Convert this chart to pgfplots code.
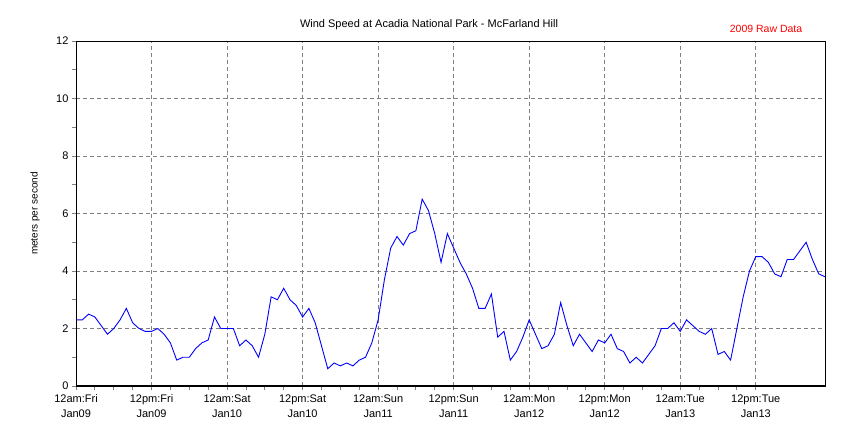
\documentclass[border=0pt]{standalone}
\usepackage{fontspec}
\setmainfont{Liberation Sans}
\usepackage{pgfplots}
\usepackage{pgfplotstable}
\pgfplotsset{compat=1.18}
\definecolor{gridgray}{HTML}{808080}
\definecolor{lineblue}{HTML}{0000FF}

% hour since 12am Fri Jan09, wind speed (m/s)
\pgfplotstableread{
h v
0 2.3
1 2.3
2 2.5
3 2.4
4 2.1
5 1.8
6 2.0
7 2.3
8 2.7
9 2.2
10 2.0
11 1.9
12 1.9
13 2.0
14 1.8
15 1.5
16 0.9
17 1.0
18 1.0
19 1.3
20 1.5
21 1.6
22 2.4
23 2.0
24 2.0
25 2.0
26 1.4
27 1.6
28 1.4
29 1.0
30 1.8
31 3.1
32 3.0
33 3.4
34 3.0
35 2.8
36 2.4
37 2.7
38 2.2
39 1.4
40 0.6
41 0.8
42 0.7
43 0.8
44 0.7
45 0.9
46 1.0
47 1.5
48 2.3
49 3.7
50 4.8
51 5.2
52 4.9
53 5.3
54 5.4
55 6.5
56 6.1
57 5.3
58 4.3
59 5.3
60 4.8
61 4.3
62 3.9
63 3.4
64 2.7
65 2.7
66 3.2
67 1.7
68 1.9
69 0.9
70 1.2
71 1.7
72 2.3
73 1.8
74 1.3
75 1.4
76 1.8
77 2.9
78 2.1
79 1.4
80 1.8
81 1.5
82 1.2
83 1.6
84 1.5
85 1.8
86 1.3
87 1.2
88 0.8
89 1.0
90 0.8
91 1.1
92 1.4
93 2.0
94 2.0
95 2.2
96 1.9
97 2.3
98 2.1
99 1.9
100 1.8
101 2.0
102 1.1
103 1.2
104 0.9
105 2.0
106 3.1
107 4.0
108 4.5
109 4.5
110 4.3
111 3.9
112 3.8
113 4.4
114 4.4
115 4.7
116 5.0
117 4.4
118 3.9
119 3.8
}\windtable

\begin{document}
\begin{tikzpicture}[x=1pt,y=1pt]
\path[use as bounding box] (0,0) rectangle (850,425);
\begin{axis}[
  at={(76pt,39pt)}, anchor=south west,
  width=749pt, height=345pt, scale only axis,
  xmin=0, xmax=119, ymin=0, ymax=12,
  xtick={0,12,...,108}, ytick={0,2,...,12},
  minor x tick num=3, minor y tick num=1,
  xticklabels={{12am:Fri\\Jan09},{12pm:Fri\\Jan09},{12am:Sat\\Jan10},{12pm:Sat\\Jan10},{12am:Sun\\Jan11},{12pm:Sun\\Jan11},{12am:Mon\\Jan12},{12pm:Mon\\Jan12},{12am:Tue\\Jan13},{12pm:Tue\\Jan13}},
  xticklabel style={align=center, font=\fontsize{11}{15}\selectfont, yshift=-1pt},
  yticklabel style={font=\fontsize{11}{13}\selectfont},
  /pgf/number format/assume math mode=true,
  tick align=outside, xtick pos=bottom, ytick pos=left,
  major tick length=4pt, minor tick length=4pt,
  tick style={gridgray, line width=0.8pt},
  grid=major, major grid style={gridgray, line width=0.8pt, dash pattern=on 4pt off 3pt},
  axis line style={black, line width=0.9pt},
  ylabel={meters per second},
  ylabel style={font=\fontsize{11}{13}\selectfont},
  every axis y label/.style={at={(rel axis cs:0,0.5)}, rotate=90, anchor=center, yshift=41pt},
  clip=true,
]
\addplot[lineblue, line width=0.9pt, mark=none] table[x=h, y=v] {\windtable};
\draw[black, line width=2pt] (rel axis cs:0,1) -- (rel axis cs:0,0) -- (rel axis cs:1,0);
\end{axis}
\node[font=\fontsize{11}{13}\selectfont] at (429,400) {Wind Speed at Acadia National Park - McFarland Hill};
\node[font=\fontsize{10.5}{13}\selectfont, text=red] at (766,396) {2009 Raw Data};
\end{tikzpicture}
\end{document}
